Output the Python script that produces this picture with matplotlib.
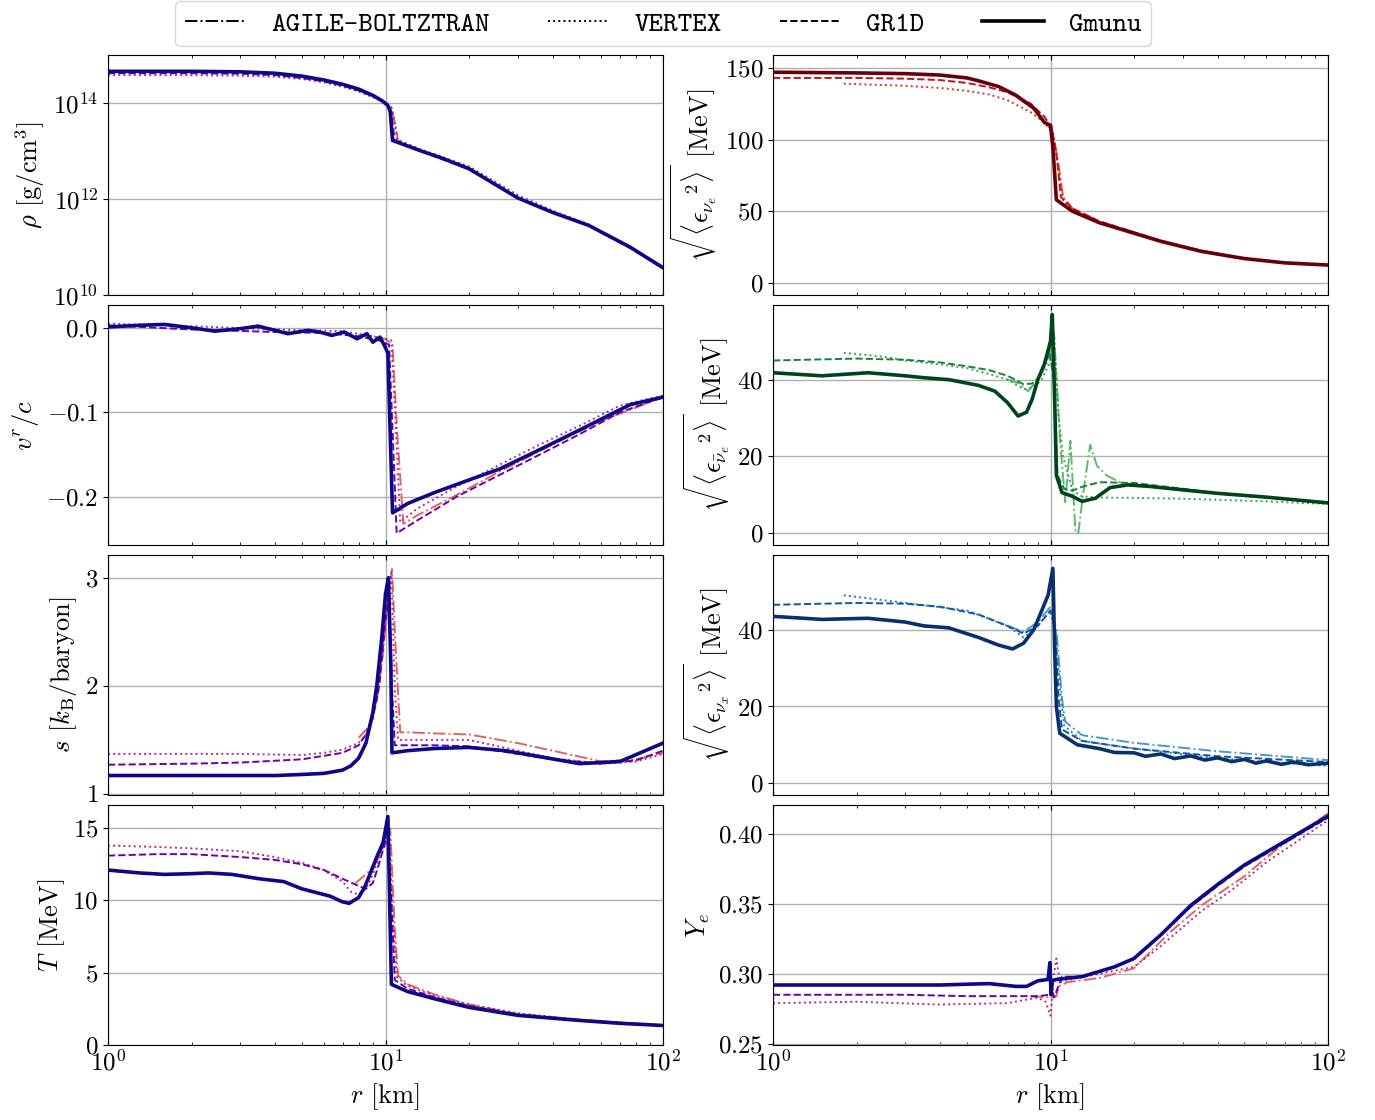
import matplotlib
matplotlib.use("Agg")
import matplotlib.pyplot as plt
from matplotlib.lines import Line2D
import numpy as np

plt.rcParams['font.family'] = 'serif'
plt.rcParams['font.serif'] = ['cmr10']
plt.rcParams['mathtext.fontset'] = 'cm'
plt.rcParams['axes.formatter.use_mathtext'] = True
plt.rcParams['font.size'] = 18

codes = ['AGILE-BOLTZTRAN', 'VERTEX', 'GR1D', 'Gmunu']
styles = {'AGILE-BOLTZTRAN': '-.', 'VERTEX': ':', 'GR1D': '--', 'Gmunu': '-'}
widths = {'AGILE-BOLTZTRAN': 1.4, 'VERTEX': 1.4, 'GR1D': 1.4, 'Gmunu': 2.6}

# colours per panel family
col_hydro = {'Gmunu': '#0d0887', 'GR1D': '#6a00a8', 'VERTEX': '#b12a90', 'AGILE-BOLTZTRAN': '#e16462'}
col_nue = {'Gmunu': '#67000d', 'GR1D': '#bb151a', 'VERTEX': '#e32f27', 'AGILE-BOLTZTRAN': '#f6553c'}
col_nueb = {'Gmunu': '#00441b', 'GR1D': '#1a7f3c', 'VERTEX': '#37a055', 'AGILE-BOLTZTRAN': '#5db96b'}
col_nux = {'Gmunu': '#08306b', 'GR1D': '#0d58a1', 'VERTEX': '#2a7ab9', 'AGILE-BOLTZTRAN': '#4a98c9'}

# ---------------- density [log10 g/cm^3]
rho = {
    'Gmunu': ([1, 2, 3, 4, 5, 6, 7, 8, 9, 9.7, 10.2, 10.4, 10.6, 13.3, 16, 20, 30, 40, 54, 76, 100],
              [14.66, 14.66, 14.65, 14.62, 14.56, 14.48, 14.39, 14.29, 14.16, 14.05, 13.95, 13.82, 13.22,
               13.01, 12.85, 12.63, 12.02, 11.72, 11.45, 11.0, 10.57]),
    'GR1D': ([1, 2, 3, 4, 5, 6, 7, 8, 9, 9.8, 10.3, 10.5, 10.8, 13.3, 20, 30, 40, 54, 76, 100],
             [14.62, 14.62, 14.61, 14.58, 14.52, 14.45, 14.36, 14.26, 14.14, 14.03, 13.93, 13.8, 13.2,
              13.0, 12.62, 12.03, 11.72, 11.44, 10.98, 10.55]),
    'VERTEX': ([1, 2, 3, 4, 5, 6, 7, 8, 9, 9.9, 10.5, 10.8, 11.0, 13.3, 20, 30, 40, 54, 76, 100],
               [14.58, 14.58, 14.57, 14.55, 14.5, 14.43, 14.34, 14.24, 14.12, 14.02, 13.9, 13.6, 13.24,
                13.04, 12.68, 12.08, 11.76, 11.47, 11.0, 10.56]),
    'AGILE-BOLTZTRAN': ([8, 9, 9.9, 10.5, 10.8, 11.1, 13.3, 20, 30, 40, 54, 76, 100],
                        [14.27, 14.14, 14.03, 13.92, 13.6, 13.22, 13.02, 12.64, 12.03, 11.73, 11.45, 10.99, 10.56]),
}

# ---------------- radial velocity v^r/c
vel = {
    'Gmunu': ([1, 1.3, 1.6, 2.0, 2.43, 3.0, 3.47, 4.0, 4.45, 5.25, 5.8, 6.4, 7.1, 7.9, 8.57, 9.0, 9.55, 9.95,
               10.2, 10.45, 10.6, 12, 15, 20, 25.8, 35, 50, 76, 100],
              [0.001, 0.003, 0.004, 0.0, -0.004, -0.001, 0.002, -0.003, -0.007, -0.003, -0.005, -0.009, -0.005,
               -0.013, -0.007, -0.017, -0.011, -0.022, -0.03, -0.15, -0.219, -0.208, -0.195, -0.18, -0.167,
               -0.146, -0.121, -0.091, -0.082]),
    'GR1D': ([1, 2, 4, 6, 8, 9.5, 10.3, 10.6, 10.97, 13, 18, 25.8, 35, 50, 70, 100],
             [0.003, -0.002, -0.005, -0.006, -0.01, -0.015, -0.02, -0.12, -0.243, -0.228, -0.2, -0.174,
              -0.152, -0.126, -0.1, -0.082]),
    'VERTEX': ([1, 2, 4, 7, 9, 10.5, 10.9, 11.3, 13, 18, 25.8, 35, 50, 70, 100],
               [0.005, 0.002, -0.002, -0.004, -0.01, -0.015, -0.12, -0.23, -0.214, -0.188, -0.162, -0.14,
                -0.116, -0.092, -0.08]),
    'AGILE-BOLTZTRAN': ([8, 9, 10, 10.6, 11.0, 11.6, 13, 18, 25.8, 40, 60, 100],
                        [-0.008, -0.01, -0.013, -0.02, -0.12, -0.232, -0.222, -0.198, -0.17, -0.138, -0.11, -0.082]),
}

# ---------------- entropy [k_B/baryon]
ent = {
    'Gmunu': ([1, 2, 3, 4, 5, 6, 7, 7.5, 8, 8.5, 9, 9.3, 9.7, 10.0, 10.25, 10.45, 10.55, 12, 15, 20, 27, 35,
               50, 70, 100],
              [1.17, 1.17, 1.17, 1.17, 1.18, 1.19, 1.22, 1.26, 1.33, 1.47, 1.75, 2.0, 2.45, 2.85, 3.0, 2.2, 1.38,
               1.4, 1.42, 1.43, 1.4, 1.35, 1.28, 1.3, 1.47]),
    'GR1D': ([1, 2, 3, 5, 7, 8, 8.5, 9, 9.5, 9.9, 10.3, 10.55, 10.8, 12, 15, 20, 30, 40, 60, 80, 100],
             [1.27, 1.28, 1.29, 1.32, 1.38, 1.45, 1.55, 1.7, 2.0, 2.5, 2.9, 2.0, 1.45, 1.45, 1.45, 1.44,
              1.37, 1.32, 1.28, 1.31, 1.4]),
    'VERTEX': ([1, 2, 3, 5, 6, 7, 8, 8.5, 9, 9.5, 10, 10.5, 10.8, 11.1, 12, 15, 20, 30, 40, 60, 80, 100],
               [1.37, 1.37, 1.37, 1.36, 1.38, 1.41, 1.47, 1.55, 1.75, 2.1, 2.6, 3.05, 2.0, 1.5, 1.5, 1.5,
                1.5, 1.4, 1.33, 1.28, 1.3, 1.37]),
    'AGILE-BOLTZTRAN': ([8, 8.7, 9.3, 9.8, 10.2, 10.55, 10.9, 11.3, 12, 15, 20, 30, 40, 60, 80, 100],
                        [1.52, 1.62, 1.85, 2.3, 2.8, 3.08, 2.3, 1.57, 1.57, 1.56, 1.55, 1.47, 1.4, 1.3, 1.32, 1.38]),
}

# ---------------- temperature [MeV]
temp = {
    'Gmunu': ([1, 1.3, 1.6, 2.0, 2.3, 2.8, 3.5, 4.3, 5.0, 6.3, 7.0, 7.4, 8.0, 8.4, 8.7, 9.3, 9.8, 10.2, 10.35,
               10.5, 12, 15, 20, 30, 50, 70, 100],
              [12.1, 11.9, 11.8, 11.85, 11.9, 11.8, 11.5, 11.3, 10.8, 10.3, 9.9, 9.8, 10.2, 10.9, 11.6, 13.0,
               14.0, 15.8, 10.0, 4.2, 3.7, 3.2, 2.6, 2.05, 1.7, 1.5, 1.35]),
    'GR1D': ([1, 1.5, 2, 3, 4, 5, 6, 7, 8, 8.5, 9.0, 9.4, 9.8, 10.2, 10.5, 10.8, 12, 15, 20, 30, 50, 100],
             [13.1, 13.2, 13.2, 13.0, 12.8, 12.5, 12.1, 11.5, 11.0, 10.8, 11.2, 12.3, 13.5, 14.5, 10.0, 4.5,
              3.9, 3.3, 2.7, 2.1, 1.7, 1.35]),
    'VERTEX': ([1, 1.5, 2, 3, 4, 5, 6, 7, 7.5, 8, 8.5, 9, 9.5, 10.0, 10.3, 10.6, 11.0, 12, 15, 20, 30, 50, 100],
               [13.8, 13.7, 13.6, 13.4, 13.0, 12.6, 12.1, 11.3, 10.6, 10.4, 10.8, 11.8, 13.0, 14.2, 15.0, 9.0,
                4.7, 4.1, 3.4, 2.8, 2.2, 1.75, 1.35]),
    'AGILE-BOLTZTRAN': ([7.8, 8.5, 9.0, 9.5, 10.0, 10.4, 10.8, 11.1, 12, 15, 20, 30, 50, 100],
                        [11.2, 11.8, 12.3, 13.0, 14.2, 15.0, 8.0, 4.8, 4.2, 3.5, 2.8, 2.15, 1.75, 1.35]),
}

# ---------------- rms nu_e energy [MeV]
e_nue = {
    'Gmunu': ([1, 2, 3, 4, 5, 5.5, 6.5, 7.5, 8.7, 9.5, 10.0, 10.2, 10.5, 12, 15, 25, 35, 50, 70, 100],
              [147, 146.5, 146, 145, 143, 141, 137, 131, 122, 112, 110, 95, 58, 50, 42, 29, 22, 17, 14, 12.5]),
    'GR1D': ([1, 2, 3, 4, 5, 6, 7, 8.5, 9.5, 10.1, 10.5, 10.9, 12, 15, 25, 35, 50, 70, 100],
             [143, 143, 142.5, 141.5, 139.5, 136.5, 133, 125, 116, 108, 90, 60, 52, 43, 29.5, 22.5, 17, 14, 12.5]),
    'VERTEX': ([1.8, 3, 4, 5, 6, 7, 8.5, 9.5, 10.2, 10.7, 11.1, 12, 15, 25, 35, 50, 70, 100],
               [139, 137.5, 136, 134, 131.5, 127.5, 119, 112, 104, 80, 57, 51, 42, 29, 22, 17, 14, 12.5]),
    'AGILE-BOLTZTRAN': ([7.5, 8.7, 9.6, 10.2, 10.7, 11.1, 12, 15, 25, 35, 50, 70, 100],
                        [130, 121, 112, 105, 82, 60, 52, 43, 29.5, 22.5, 17, 14, 12.5]),
}

# ---------------- rms anti-nu_e energy [MeV]
e_nueb = {
    'Gmunu': ([1, 1.5, 2.2, 3.0, 3.5, 4.3, 5.5, 6.3, 7.0, 7.64, 8.2, 8.6, 9.0, 9.5, 10.0, 10.15, 10.35, 10.5,
               11.0, 12, 13, 14.5, 16.4, 19, 22.8, 30, 40, 60, 100],
              [41.8, 41.0, 41.8, 41.0, 40.5, 40.0, 38.5, 37.0, 34.0, 30.5, 31.5, 35.0, 40.0, 44.0, 50.0, 57.0,
               35.0, 15.0, 10.5, 9.5, 8.2, 9.0, 11.8, 12.5, 12.1, 11.2, 10.3, 9.3, 7.8]),
    'GR1D': ([1, 2, 3, 4, 5, 6, 7, 8, 8.6, 9.2, 9.9, 10.3, 10.6, 11.2, 12, 13, 15, 20, 30, 40, 60, 100],
             [45.0, 45.5, 45.2, 44.5, 43.5, 42.5, 41.0, 38.8, 39.0, 41.0, 47.0, 40.0, 15.0, 11.5, 11.0, 12.0,
              13.2, 13.0, 11.5, 10.3, 9.2, 7.8]),
    'VERTEX': ([1.8, 2.5, 3, 4, 5, 6, 7, 8, 8.7, 9.3, 10.0, 10.3, 10.7, 11.1, 12, 13, 15, 20, 30, 40, 60, 100],
               [47.0, 46.0, 45.0, 44.0, 43.0, 41.5, 40.0, 37.5, 38.0, 40.0, 45.0, 52.0, 30.0, 20.0, 11.0, 9.5,
                9.2, 9.1, 8.9, 8.6, 8.2, 7.5]),
    'AGILE-BOLTZTRAN': ([7.0, 7.7, 8.3, 9.0, 9.8, 10.3, 10.8, 11.3, 11.8, 12.3, 12.6, 13.1, 13.9, 14.7, 15.9,
                         18, 22, 30, 40, 60, 100],
                        [40.0, 39.0, 37.0, 40.0, 45.0, 52.0, 25.0, 8.0, 24.0, 0.0, 0.0, 10.0, 23.0, 17.5, 15.0,
                         13.0, 12.2, 11.2, 10.2, 9.2, 8.0]),
}

# ---------------- rms nu_x energy [MeV]
e_nux = {
    'Gmunu': ([1, 1.5, 2.2, 3.0, 3.5, 4.3, 5.5, 6.5, 7.3, 8.0, 8.7, 9.3, 9.8, 10.2, 10.35, 10.5, 10.8, 12.5,
               15, 17, 20, 22, 25, 28, 32, 36, 40, 45, 50, 55, 60, 68, 75, 85, 100],
              [43.5, 42.7, 43.0, 42.0, 41.0, 40.5, 38.0, 36.0, 35.0, 36.5, 40.0, 45.0, 49.0, 56.0, 35.0, 20.0,
               13.0, 10.0, 9.0, 8.0, 7.9, 7.0, 7.6, 6.4, 7.1, 6.0, 6.6, 5.6, 6.2, 5.2, 5.8, 4.9, 5.5, 4.8, 5.2]),
    'GR1D': ([1, 2, 3, 4, 5.5, 7, 8, 9, 10.0, 10.4, 10.7, 11, 13, 20, 40, 100],
             [46.5, 47.0, 46.8, 46.0, 44.0, 41.0, 39.0, 41.0, 45.0, 40.0, 22.0, 14.0, 11.0, 9.0, 7.0, 5.5]),
    'VERTEX': ([1.8, 3, 5, 7, 8, 9, 10.0, 10.4, 10.8, 11.2, 13, 20, 40, 60, 100],
               [49.0, 47.0, 45.0, 41.0, 38.0, 41.0, 45.0, 40.0, 25.0, 15.0, 11.0, 9.0, 6.5, 5.5, 4.5]),
    'AGILE-BOLTZTRAN': ([7.0, 8.0, 9.0, 10.0, 10.5, 11.0, 11.3, 13, 20, 40, 100],
                        [41.0, 39.5, 42.0, 46.0, 40.0, 22.0, 16.0, 12.5, 10.5, 8.3, 6.0]),
}

# ---------------- electron fraction
ye = {
    'Gmunu': ([1, 2, 4, 6, 7.5, 8.2, 9, 9.8, 9.95, 10.05, 10.15, 10.5, 13, 17, 20, 25, 32, 40, 50, 70, 100],
              [0.292, 0.292, 0.292, 0.293, 0.291, 0.291, 0.295, 0.296, 0.308, 0.285, 0.295, 0.296, 0.298,
               0.305, 0.311, 0.328, 0.349, 0.364, 0.378, 0.395, 0.413]),
    'GR1D': ([1, 3, 5, 9, 9.9, 10.1, 10.3, 11, 13, 17, 20, 25, 32, 40, 50, 70, 100],
             [0.285, 0.285, 0.284, 0.284, 0.285, 0.29, 0.283, 0.298, 0.298, 0.305, 0.311, 0.328, 0.348, 0.363,
              0.377, 0.394, 0.412]),
    'VERTEX': ([1, 2, 4, 7, 9, 9.6, 10.0, 10.3, 10.5, 10.8, 11.2, 15, 20, 25, 35, 45, 60, 100],
               [0.279, 0.280, 0.278, 0.279, 0.283, 0.28, 0.270, 0.300, 0.311, 0.294, 0.295, 0.300, 0.305,
                0.32, 0.345, 0.36, 0.38, 0.41]),
    'AGILE-BOLTZTRAN': ([8.5, 10.0, 10.5, 10.7, 11.5, 15, 20, 27, 35, 50, 65, 100],
                        [0.284, 0.283, 0.284, 0.291, 0.294, 0.297, 0.304, 0.33, 0.349, 0.37, 0.389, 0.415]),
}

panels_left = [
    (rho, col_hydro, r'$\rho$ [g/cm$^3$]', (1e10, 1e15), True),
    (vel, col_hydro, r'$v^r/c$', (-0.257, 0.027), False),
    (ent, col_hydro, r'$s$ [$k_\mathrm{B}$/baryon]', (0.99, 3.21), False),
    (temp, col_hydro, r'$T$ [MeV]', (0, 16.6), False),
]
panels_right = [
    (e_nue, col_nue, r'$\sqrt{\langle{\epsilon_{\nu_e}}^2\rangle}$ [MeV]', (-8.4, 159), False),
    (e_nueb, col_nueb, r'$\sqrt{\langle{\epsilon_{\bar{\nu}_e}}^2\rangle}$ [MeV]', (-3.2, 59.5), False),
    (e_nux, col_nux, r'$\sqrt{\langle{\epsilon_{\nu_x}}^2\rangle}$ [MeV]', (-3.1, 59.5), False),
    (ye, col_hydro, r'$Y_e$', (0.249, 0.421), False),
]

fig = plt.figure(figsize=(13.75, 11.2), dpi=100)
W, H = 1375.0, 1120.0
row_tops = [55, 305, 555, 805]
row_h = 240
col_left = [108, 773]
col_w = 555

first = None
for ci, panels in enumerate([panels_left, panels_right]):
    for ri, (data, cols, ylabel, ylim, logy) in enumerate(panels):
        rect = [col_left[ci] / W, 1 - (row_tops[ri] + row_h) / H, col_w / W, row_h / H]
        ax = fig.add_axes(rect, sharex=first)
        if first is None:
            first = ax
        for code in codes:
            r, v = data[code]
            v = np.array(v, dtype=float)
            if logy:
                v = 10 ** v
            ax.plot(r, v, styles[code], color=cols[code], lw=widths[code], zorder=3 if code == 'Gmunu' else 2)
        ax.set_xscale('log')
        if logy:
            ax.set_yscale('log')
            ax.set_yticks([1e10, 1e12, 1e14])
            ax.minorticks_off()
            ax.set_xscale('log')
        ax.set_xlim(1, 100)
        ax.set_ylim(*ylim)
        ax.grid(True, which='major', color='#b0b0b0', lw=1.0)
        ax.tick_params(axis='x', which='both', direction='in', top=True)
        ax.set_ylabel(ylabel, fontsize=19)
        if ri < 3:
            ax.tick_params(axis='x', labelbottom=False)
        else:
            ax.set_xlabel(r'$r$ [km]', fontsize=19)

handles = [Line2D([], [], color='black', ls=styles[c], lw=widths[c]) for c in codes]
fig.legend(handles, codes, loc='upper center', bbox_to_anchor=(663 / W, 1.0), ncol=4,
           prop={'family': 'cmtt10', 'size': 20}, handlelength=2.2, columnspacing=2.1,
           handletextpad=0.9, frameon=True, fancybox=True, borderpad=0.35, borderaxespad=0.05)

fig.savefig('out.png', dpi=100)
